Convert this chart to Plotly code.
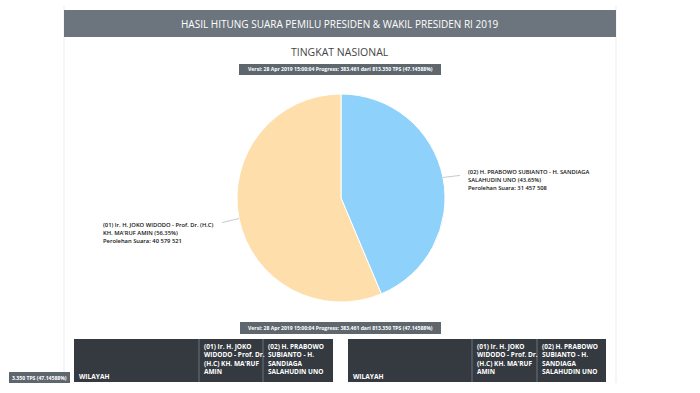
import math
import plotly.graph_objects as go

# ---- data ----
candidates = ["(02) H. PRABOWO SUBIANTO - H. SANDIAGA SALAHUDIN UNO",
              "(01) Ir. H. JOKO WIDODO - Prof. Dr. (H.C) KH. MA'RUF AMIN"]
votes = [31457508, 40579521]
vote_text = ["31 457 508", "40 579 521"]
label_lines = [["(02) H. PRABOWO SUBIANTO - H. SANDIAGA", "SALAHUDIN UNO (43.65%)"],
               ["(01) Ir. H. JOKO WIDODO - Prof. Dr. (H.C)", "KH. MA'RUF AMIN (56.35%)"]]
slice_colors = ["#8ED1FA", "#FEDFAC"]
header_title = "HASIL HITUNG SUARA PEMILU PRESIDEN & WAKIL PRESIDEN RI 2019"
sub_title = "TINGKAT NASIONAL"
version_text = "Versi: 28 Apr 2019 15:00:04 Progress: 383.461 dari 813.350 TPS (47.14588%)"
version_tail = "3.350 TPS (47.14588%)"
table_cols = ["WILAYAH",
              "(01) Ir. H. JOKO<br>WIDODO - Prof. Dr.<br>(H.C) KH. MA'RUF<br>AMIN",
              "(02) H. PRABOWO<br>SUBIANTO - H.<br>SANDIAGA<br>SALAHUDIN UNO"]

W, H = 700, 393
def px(x): return x / W
def py(y): return 1 - y / H

FONT = "Open Sans"
cx, cy, R = 341, 198, 104

fig = go.Figure()
fig.add_trace(go.Pie(
    labels=candidates, values=votes, sort=False, direction="clockwise",
    rotation=0, textinfo="none", hoverinfo="label+value+percent",
    marker=dict(colors=slice_colors, line=dict(color="white", width=1)),
    domain=dict(x=[px(cx - R), px(cx + R)], y=[py(cy + R), py(cy - R)]),
    showlegend=False))

shapes = []
annotations = []

def text(x, y, t, size, color, xanchor="center", yanchor="middle", align="center",
         weight="normal"):
    annotations.append(dict(x=px(x), y=py(y), xref="paper", yref="paper",
                            text=t, showarrow=False,
                            xanchor=xanchor, yanchor=yanchor, align=align,
                            font=dict(family=FONT, size=size, color=color, weight=weight)))

# card borders
for xx in (64, 616):
    shapes.append(dict(type="line", xref="paper", yref="paper", x0=px(xx), x1=px(xx),
                       y0=py(6), y1=py(383), line=dict(color="#EBEBEB", width=1)))
# header bar
shapes.append(dict(type="rect", xref="paper", yref="paper", x0=px(64), x1=px(616),
                   y0=py(37), y1=py(10), fillcolor="#6C757D", line=dict(width=0)))
text(340, 23.5, header_title, 10, "white")
text(340, 52, sub_title, 10.5, "#444")

def badge(x0, x1, y0, y1, t, xanchor="center", tx=None):
    shapes.append(dict(type="rect", xref="paper", yref="paper", x0=px(x0), x1=px(x1),
                       y0=py(y1), y1=py(y0), fillcolor="#5F676E", line=dict(width=0)))
    text(tx if tx is not None else (x0 + x1) / 2, (y0 + y1) / 2, t, 5.1, "white",
         xanchor=xanchor, weight="bold")

badge(239, 441, 64, 75, version_text)
badge(240, 441, 322, 334, version_text)
badge(9, 70, 372, 383, version_tail, xanchor="right", tx=69)

# pie labels with leader lines computed from the data
total = sum(votes)
start = 0.0
for i, v in enumerate(votes):
    frac = v / total
    mid = (start + frac / 2) * 2 * math.pi
    start += frac
    dx, dy = math.sin(mid), -math.cos(mid)
    ex, ey = cx + R * dx, cy + R * dy
    right = dx > 0
    lx = ex + (17 if right else -17)
    ly = ey - 2 if right else ey + 4
    shapes.append(dict(type="line", xref="paper", yref="paper", x0=px(ex), y0=py(ey),
                       x1=px(lx), y1=py(ly), line=dict(color="#BBBBBB", width=0.8)))
    tx = 466 if right else 101
    lines = label_lines[i] + ["Perolehan Suara: " + vote_text[i]]
    ty0 = ly - 3 if right else ly + 2
    for k, t in enumerate(lines):
        text(tx, ty0 + 8 * k, t, 5.8, "#111", xanchor="left", weight=600)

# table headers
for (x0, xa, xb, x1) in [(74, 199, 263, 333), (348, 472, 537, 606)]:
    y0, y1 = 339, 382
    shapes.append(dict(type="rect", xref="paper", yref="paper", x0=px(x0), x1=px(x1),
                       y0=py(y1), y1=py(y0), fillcolor="#343A40", line=dict(width=0)))
    for xs in (xa, xb):
        shapes.append(dict(type="line", xref="paper", yref="paper", x0=px(xs), x1=px(xs),
                           y0=py(y1), y1=py(y0), line=dict(color="#6D737A", width=1)))
    text(x0 + 3, 376, table_cols[0], 6.6, "white", xanchor="left", weight="bold")
    for xs, t in ((xa, table_cols[1]), (xb, table_cols[2])):
        text(xs + 2.5, 339.5, t, 6.5, "white", xanchor="left", yanchor="top", align="left",
             weight="bold")

fig.update_layout(width=W, height=H, margin=dict(l=0, r=0, t=0, b=0),
                  paper_bgcolor="white", plot_bgcolor="white",
                  shapes=shapes, annotations=annotations)
fig.write_html("out.html")
